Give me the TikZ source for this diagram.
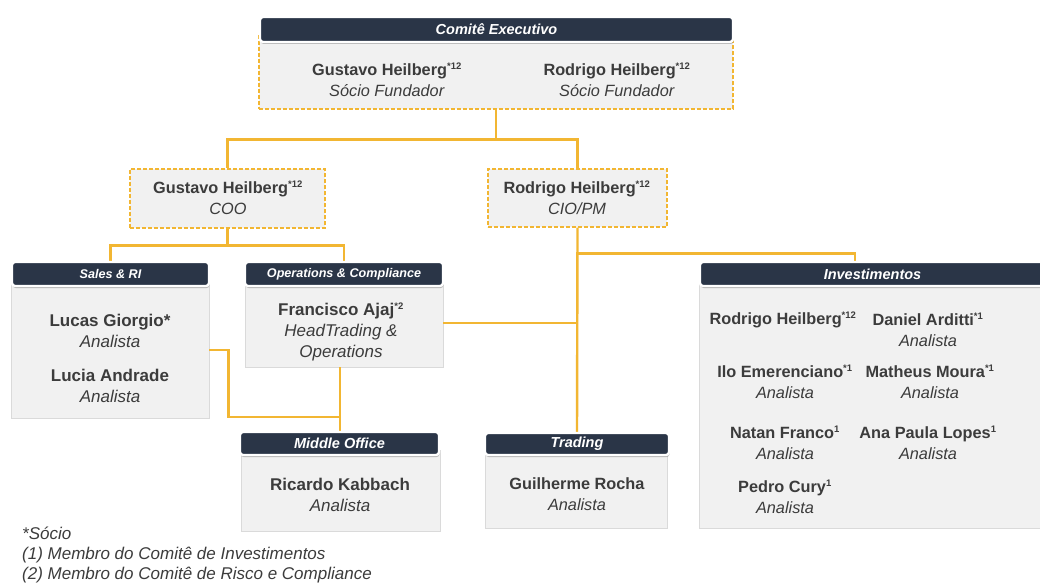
\documentclass[tikz,border=0pt]{standalone}
\usepackage{fontspec}
\setmainfont{Liberation Sans}
\usetikzlibrary{positioning,shadows}

\definecolor{navy}{HTML}{2A3547}
\definecolor{gold}{HTML}{F2B632}
\definecolor{boxgray}{HTML}{F1F1F1}
\definecolor{boxline}{HTML}{DADADA}
\definecolor{inkgray}{HTML}{3C3C3C}

\tikzset{
  head/.style={shape=rectangle, rounded corners=3pt, fill=navy, draw=white, line width=2.4pt,
    text=white, inner sep=0pt, font=\fontsize{14.5}{17}\selectfont\bfseries\itshape,
    drop shadow={shadow xshift=0.6pt, shadow yshift=-2pt, opacity=.25, fill=black}},
  smallhead/.style={head, font=\fontsize{12.6}{15}\selectfont\bfseries\itshape},
  panel/.style={shape=rectangle, fill=boxgray, draw=boxline, line width=0.8pt, inner sep=0pt},
  dashpanel/.style={shape=rectangle, fill=boxgray, draw=gold, line width=1.2pt,
    dash pattern=on 4pt off 2pt, inner sep=0pt},
  person/.style={align=center, text=inkgray, inner sep=0pt, font=\fontsize{16.3}{21}\selectfont},
  bigperson/.style={person, font=\fontsize{17}{21}\selectfont},
  link/.style={draw=gold, line width=2.4pt},
}
\newcommand{\who}[2]{\textbf{#1}\\\textit{#2}}
\newcommand{\sociomark}[1]{\textsuperscript{\fontsize{9.5}{9.5}\selectfont\bfseries #1}}

\begin{document}
\begin{tikzpicture}[x=1pt, y=-1pt]
  \useasboundingbox[fill=white] (0,0) rectangle (1040,583);
  \clip (0,0) rectangle (1040,583);

  % boxes
  \node[dashpanel, minimum width=474pt, minimum height=73pt] (execbody) at (496,72.5) {};
  \node[dashpanel, minimum width=195pt, minimum height=59pt] (coo) at (227.5,198.5) {};
  \node[dashpanel, minimum width=179pt, minimum height=58pt] (cio) at (577.5,198) {};
  \node[panel, minimum width=198pt, minimum height=136pt] (salesbody) at (110,350) {};
  \node[panel, minimum width=198pt, minimum height=85pt] (opsbody) at (344,324.5) {};
  \node[panel, minimum width=346pt, minimum height=246pt] (invbody) at (872,405) {};
  \node[panel, minimum width=199pt, minimum height=81pt] (midbody) at (340.5,490.5) {};
  \node[panel, minimum width=182pt, minimum height=78pt] (tradbody) at (576,489) {};

  \coordinate (invtop) at (855,262);
  \coordinate (midjoin) at (340,417);

  % connectors
  \draw[link] (execbody.south) -- ++(0,30) -| (coo.north);
  \draw[link] (execbody.south) -- ++(0,30) -| (cio.north);
  \draw[link] (coo.south) -- ++(0,17) -| (110.5,262);
  \draw[link] (coo.south) -- ++(0,17) -| (344,262);
  \draw[link] (cio.south) -- (577,433);
  \draw[link] (cio.south) ++(0,26) -| (invtop);
  \draw[link] (opsbody.east) ++(0,-1.5) -- ++(134,0);
  \draw[link] (salesbody.east) -- ++(19,0) |- (midjoin);
  \draw[link] (340,367) -- (340,432);

  % headers
  \node[head, minimum width=473pt, minimum height=25pt] (exechead) at (496.5,29.5) {Comitê Executivo};
  \node[smallhead, minimum width=197pt, minimum height=24pt] (saleshead) at (110.5,274) {Sales \& RI};
  \node[smallhead, minimum width=198pt, minimum height=24pt] (opshead) at (344,274) {Operations \& Compliance};
  \node[head, minimum width=345pt, minimum height=24pt] (invhead) at (872.5,274) {Investimentos};
  \node[head, minimum width=199pt, minimum height=23pt] (midhead) at (339.5,443.5) {Middle Office};
  \node[head, minimum width=184pt, minimum height=22pt] (tradhead) at (577,444) {Trading};

  % people
  \node[person] (gustavo) at (387,80) {\who{Gustavo Heilberg\sociomark{*12}}{Sócio Fundador}};
  \node[person] (rodrigo) at (617,80) {\who{Rodrigo Heilberg\sociomark{*12}}{Sócio Fundador}};
  \node[person] (gustavocoo) at (228,198) {\who{Gustavo Heilberg\sociomark{*12}}{COO}};
  \node[person] (rodrigocio) at (577,198) {\who{Rodrigo Heilberg\sociomark{*12}}{CIO/PM}};
  \node[bigperson] (lucas) at (110,330.5) {\who{Lucas Giorgio*}{Analista}};
  \node[bigperson] (lucia) at (110,385.5) {\who{Lucia Andrade}{Analista}};
  \node[bigperson] (francisco) at (341,332) {\textbf{Francisco Ajaj\sociomark{*2}}\\\textit{HeadTrading \&}\\\textit{Operations}};
  \node[bigperson] (ricardo) at (340,495) {\who{Ricardo Kabbach}{Analista}};
  \node[person] (guilherme) at (577,494) {\who{Guilherme Rocha}{Analista}};
  \node[person] (rodrigoinv) at (783,320) {\textbf{Rodrigo Heilberg\sociomark{*12}}};
  \node[person] (daniel) at (928,330) {\who{Daniel Arditti\sociomark{*1}}{Analista}};
  \node[person] (ilo) at (785,382) {\who{Ilo Emerenciano\sociomark{*1}}{Analista}};
  \node[person] (matheus) at (930,382) {\who{Matheus Moura\sociomark{*1}}{Analista}};
  \node[person] (natan) at (785,443) {\who{Natan Franco\sociomark{1}}{Analista}};
  \node[person] (anapaula) at (928,443) {\who{Ana Paula Lopes\sociomark{1}}{Analista}};
  \node[person] (pedro) at (785,497) {\who{Pedro Cury\sociomark{1}}{Analista}};

  % notes
  \node[anchor=west, align=left, text=inkgray, inner sep=0pt, font=\fontsize{17}{20}\selectfont\itshape] (notes) at (22,555)
    {*Sócio\\(1) Membro do Comitê de Investimentos\\(2) Membro do Comitê de Risco e Compliance};
\end{tikzpicture}
\end{document}
